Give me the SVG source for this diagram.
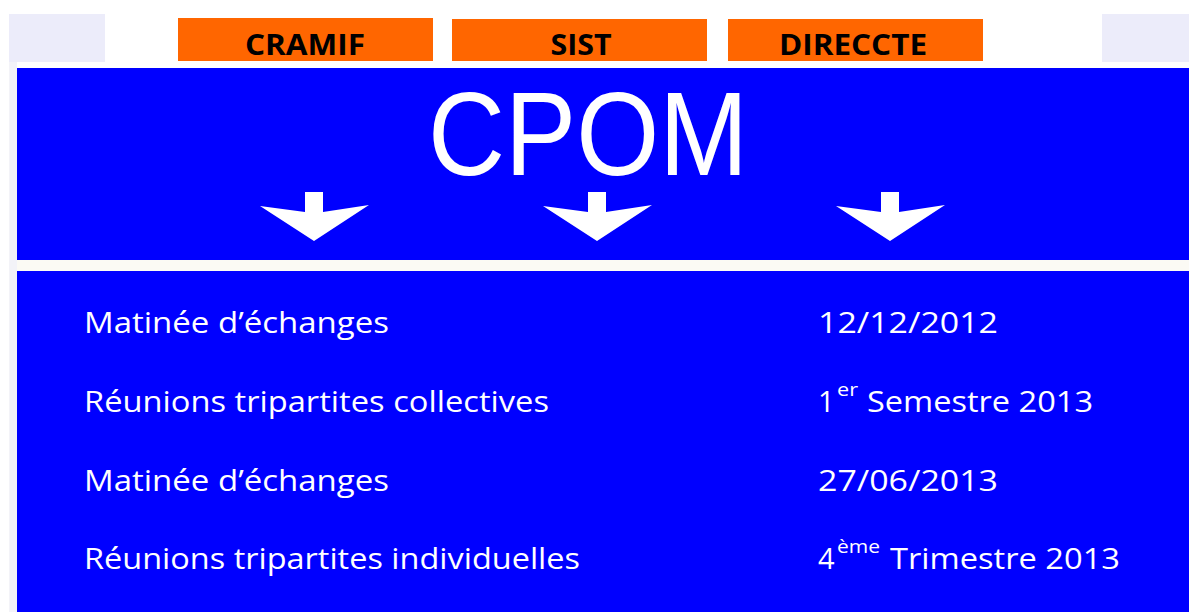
<svg xmlns="http://www.w3.org/2000/svg" width="1189" height="612" viewBox="0 0 1189 612">
<style>
.lav{fill:#ececfa}
.org{fill:#ff6600}
.blue{fill:#0000ff}
.lbl{font-family:"Open Sans","Liberation Sans",sans-serif;font-weight:bold;font-size:29px;fill:#000;text-anchor:middle}
.row{font-family:"Open Sans","Liberation Sans",sans-serif;font-size:29px;fill:#fff}
.sup{font-family:"Open Sans","Liberation Sans",sans-serif;font-size:18px;fill:#fff}
.arrow{fill:#fff}
</style>
<defs>
<path id="arr" d="M-54,14 L-9,20 L-9,0 L9,0 L9,20 L55,13 L0,49 Z"/>
</defs>
<rect width="1189" height="612" fill="#fff"/>
<rect class="lav" x="9" y="14" width="96" height="48"/>
<rect class="lav" x="1102" y="14" width="87" height="48"/>
<rect x="9" y="62" width="8" height="550" fill="#f3f3f8"/>
<g id="cramif">
<rect class="org" x="178" y="18" width="255" height="43"/>
<text class="lbl" x="305" y="55" textLength="120" lengthAdjust="spacingAndGlyphs">CRAMIF</text>
</g>
<g id="sist">
<rect class="org" x="452" y="19" width="255" height="42"/>
<text class="lbl" x="581" y="55" textLength="61" lengthAdjust="spacingAndGlyphs">SIST</text>
</g>
<g id="direccte">
<rect class="org" x="728" y="19" width="255" height="42"/>
<text class="lbl" x="853" y="55" textLength="148" lengthAdjust="spacingAndGlyphs">DIRECCTE</text>
</g>
<g id="cpom">
<rect class="blue" x="17" y="68" width="1172" height="192"/>
<text x="588" y="175" font-family="'Liberation Sans',Arial,sans-serif" font-size="119" fill="#fff" text-anchor="middle" textLength="320" lengthAdjust="spacingAndGlyphs">CPOM</text>
</g>
<rect x="17" y="260" width="1172" height="11" fill="#fbfaf4"/>
<g id="connectors">
<use href="#arr" class="arrow" transform="translate(314,192)"/>
<use href="#arr" class="arrow" transform="translate(597,192)"/>
<use href="#arr" class="arrow" transform="translate(890,192)"/>
</g>
<g id="planning">
<rect class="blue" x="17" y="271" width="1172" height="341"/>
<text class="row" x="84" y="333" textLength="305" lengthAdjust="spacingAndGlyphs">Matinée d’échanges</text>
<text class="row" x="84" y="412" textLength="465" lengthAdjust="spacingAndGlyphs">Réunions tripartites collectives</text>
<text class="row" x="84" y="491" textLength="305" lengthAdjust="spacingAndGlyphs">Matinée d’échanges</text>
<text class="row" x="84" y="569" textLength="496" lengthAdjust="spacingAndGlyphs">Réunions tripartites individuelles</text>
<text class="row" x="818" y="333" textLength="180" lengthAdjust="spacingAndGlyphs">12/12/2012</text>
<text class="row" x="818" y="412">1</text>
<text class="sup" x="837" y="396" textLength="21" lengthAdjust="spacingAndGlyphs">er</text>
<text class="row" x="867" y="412" textLength="226" lengthAdjust="spacingAndGlyphs">Semestre 2013</text>
<text class="row" x="818" y="491" textLength="180" lengthAdjust="spacingAndGlyphs">27/06/2013</text>
<text class="row" x="818" y="569">4</text>
<text class="sup" x="837" y="553" textLength="43" lengthAdjust="spacingAndGlyphs">ème</text>
<text class="row" x="890" y="569" textLength="230" lengthAdjust="spacingAndGlyphs">Trimestre 2013</text>
</g>
</svg>
